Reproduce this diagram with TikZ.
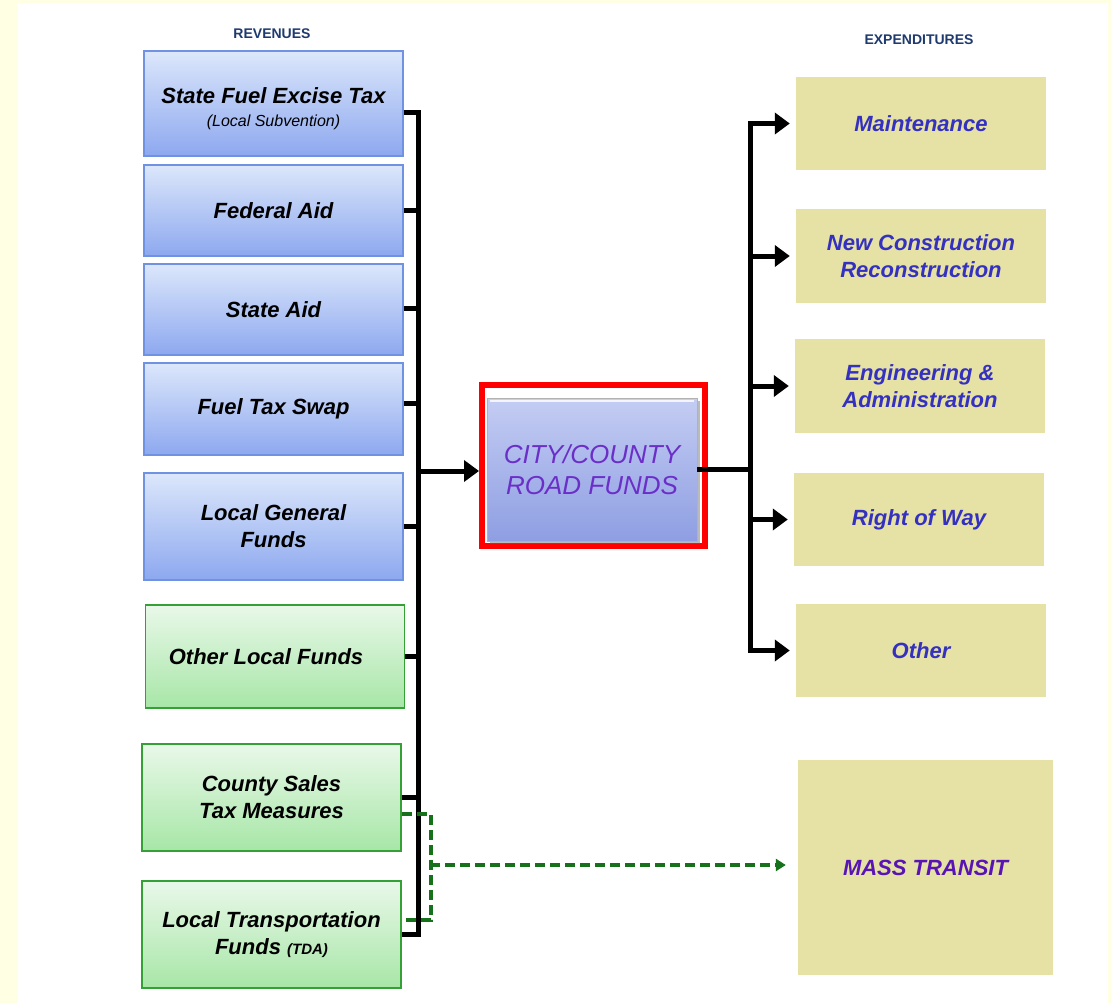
\documentclass[tikz,border=0pt]{standalone}
\usepackage{fontspec}
\setmainfont{Liberation Sans}
\usetikzlibrary{arrows.meta,calc,shadows}
\definecolor{bgyel}{HTML}{FFFFE4}
\definecolor{revtop}{HTML}{DCE7FB}
\definecolor{revbot}{HTML}{8DA8EF}
\definecolor{revbrd}{HTML}{7092E2}
\definecolor{grntop}{HTML}{E9F8E9}
\definecolor{grnbot}{HTML}{A7E6A7}
\definecolor{grnbrd}{HTML}{35A035}
\definecolor{khaki}{HTML}{E6E1A4}
\definecolor{exptxt}{HTML}{3430C0}
\definecolor{mttxt}{HTML}{5814B4}
\definecolor{hdr}{HTML}{1F3A6E}
\definecolor{cenpurple}{HTML}{6B2FC8}
\definecolor{centop}{HTML}{C4CDF3}
\definecolor{cenbot}{HTML}{8E9EE2}
\definecolor{dgreen}{HTML}{17701A}
\tikzset{
  txtstyle/.style={align=center, text=black,
    font=\fontsize{22}{27}\selectfont\bfseries\itshape},
  rev/.style={draw=revbrd, line width=1.2pt, top color=revtop, bottom color=revbot,
    minimum width=259pt, inner sep=0pt, txtstyle},
  grn/.style={draw=grnbrd, line width=1.4pt, top color=grntop, bottom color=grnbot,
    minimum width=259pt, inner sep=0pt, txtstyle},
  expbox/.style={fill=khaki, minimum width=250pt, inner sep=0pt, align=center,
    text=exptxt, font=\fontsize{22}{27}\selectfont\bfseries\itshape},
  hdrtxt/.style={text=hdr, font=\fontsize{14}{16}\selectfont\bfseries, inner sep=0pt},
  wire/.style={line width=5pt, black, line join=miter},
  arr/.style={line width=5pt, black, line join=miter, -{Triangle[length=15pt,width=21pt]}},
  gdash/.style={line width=3.6pt, dgreen, dash pattern=on 10pt off 5pt},
}
\begin{document}
\begin{tikzpicture}[x=1pt,y=-1pt]
\useasboundingbox (0,0) rectangle (1111,1003);
\fill[bgyel] (0,0) rectangle (1111,1003);
\fill[white] (18,3) rectangle (1108,1003);

% headers
\node[hdrtxt] (hrev) at (272,34) {REVENUES};
\node[hdrtxt] (hexp) at (919,40) {EXPENDITURES};

% revenue boxes
\node[rev, minimum height=105pt] (r1) at (273.5,103.5) {};
\node[txtstyle, inner sep=0pt] (r1t) at (273.5,109)
  {State Fuel Excise Tax\\[-4pt]{\fontsize{16}{18}\selectfont\mdseries\itshape (Local Subvention)}};
\node[rev, minimum height=91pt] (r2) at (273.5,210.5) {Federal Aid};
\node[rev, minimum height=91pt] (r3) at (273.5,309.5) {State Aid};
\node[rev, minimum height=92pt] (r4) at (273.5,409) {Fuel Tax Swap};
\node[rev, minimum height=107pt] (r5) at (273.5,526.5) {Local General\\Funds};
\node[grn, minimum height=103pt] (r6) at (275,656.5) {Other Local Funds\hspace*{18pt}};
\node[grn, minimum height=107pt] (r7) at (271.5,797.5) {County Sales\\Tax Measures};
\node[grn, minimum height=107pt] (r8) at (271.5,934.5)
  {Local Transportation\\Funds {\fontsize{15}{18}\selectfont(TDA)}};

% central box
\node[draw=red, line width=6pt, fill=white, minimum width=223pt, minimum height=161pt] (cen) at (593.5,465.5) {};
\node[top color=centop, bottom color=cenbot, draw=black!30, line width=0.8pt,
  minimum width=210pt, minimum height=143pt, inner sep=0pt, align=center,
  drop shadow={shadow xshift=3pt, shadow yshift=-3pt, fill=black!60, opacity=0.45},
  text=cenpurple, font=\fontsize{26}{31}\selectfont\itshape] (core) at (592,469.5)
  {CITY/COUNTY\\ROAD FUNDS};
\draw[white, line width=2pt, opacity=0.8] ($(core.north west)+(3,3)$) -- ($(core.north east)+(-3,3)$);

% expenditure boxes
\node[expbox, minimum height=93pt] (e1) at (921,123.5) {Maintenance};
\node[expbox, minimum height=94pt] (e2) at (921,256) {New Construction\\Reconstruction};
\node[expbox, minimum height=94pt] (e3) at (920,386) {Engineering \&\\Administration};
\node[expbox, minimum height=93pt] (e4) at (919,519.5) {Right of Way};
\node[expbox, minimum height=93pt] (e5) at (921,650.5) {Other};
\node[expbox, minimum width=255pt, minimum height=215pt, text=mttxt] (mt) at (925.5,867.5) {MASS TRANSIT};

% left bracket
\coordinate (hub) at (418,471);
\draw[wire] ($(r1.east)+(0,9.5)$) -| (r8.east -| hub) -- (r8.east);
\draw[wire] (r2.east) -- (r2.east -| hub);
\draw[wire] ($(r3.east)+(0,-1.5)$) -- ($(r3.east -| hub)+(0,-1.5)$);
\draw[wire] ($(r4.east)+(0,-6)$) -- ($(r4.east -| hub)+(0,-6)$);
\draw[wire] (r5.east) -- (r5.east -| hub);
\draw[wire] (r6.east) -- (r6.east -| hub);
\draw[wire] (r7.east) -- (r7.east -| hub);
\draw[arr] (hub) -- (hub -| cen.west);

% right bus
\coordinate (rhub) at (750,469);
\draw[wire] (rhub -| core.east) -- (rhub);
\draw[arr, shorten >=6pt] (e5.west -| rhub) |- (e1.west);
\draw[arr, shorten >=6pt] (e2.west -| rhub) -- (e2.west);
\draw[arr, shorten >=6pt] (e3.west -| rhub) -- (e3.west);
\draw[arr, shorten >=6pt] (e4.west -| rhub) -- (e4.west);
\draw[arr, shorten >=6pt] ($(e5.west -| rhub)+(0,-20)$) |- (e5.west);

% green dashed
\coordinate (gmid) at (430,865);
\draw[gdash] ($(r7.east)+(0,16.5)$) -| ($(r8.east)+(29,-14.5)$) -- ($(r8.east)+(0,-14.5)$);
\draw[gdash, -{Triangle[length=10pt,width=12pt]}, shorten >=12pt] (gmid) -- (gmid -| mt.west);
\end{tikzpicture}
\end{document}
